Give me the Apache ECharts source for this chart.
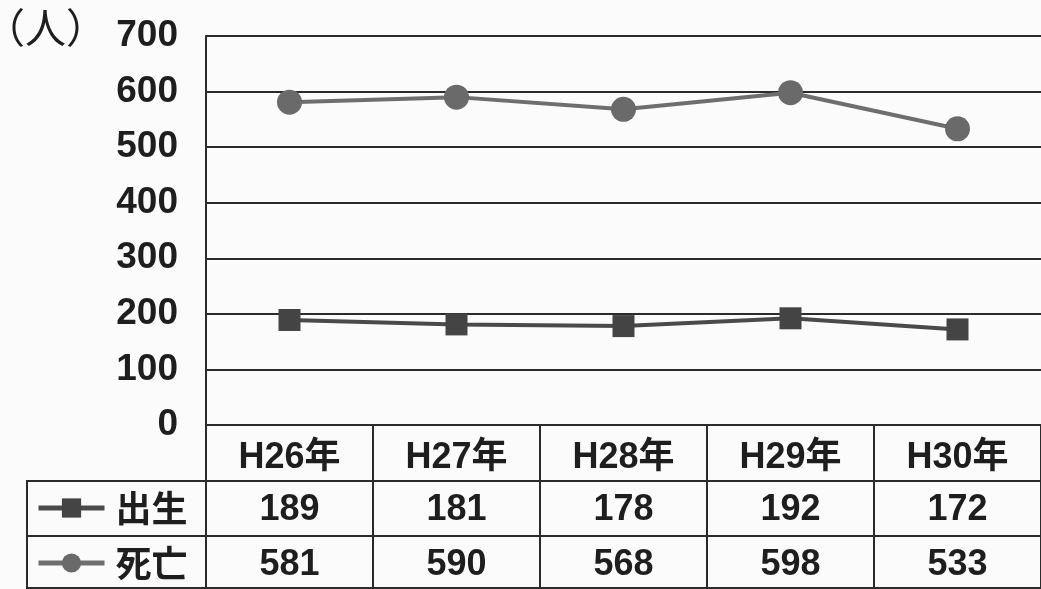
<!DOCTYPE html>
<html>
<head>
<meta charset="utf-8">
<script src="https://cdn.jsdelivr.net/npm/echarts@6/dist/echarts.min.js"></script>
<style>
    html, body { margin: 0; padding: 0; background: #fbfbfb; }
    #chart { width: 1041px; height: 589px; }
</style>
</head>
<body>
<div id="chart"></div>
<script>
// 出生・死亡数の推移
const years = ['H26年', 'H27年', 'H28年', 'H29年', 'H30年'];
const births = [189, 181, 178, 192, 172];
const deaths = [581, 590, 568, 598, 533];
const yTicks = [0, 100, 200, 300, 400, 500, 600, 700];

const NUM_FONT = '"Liberation Sans", Arial, sans-serif';
const JP_FONT = '"Noto Sans CJK JP", sans-serif';
const LINE = '#2b2b2b';

const chart = echarts.init(document.getElementById('chart'));

// 表の数値行（x軸を流用）
function valueRow(values, offset) {
    return {
        type: 'category',
        data: values.map(String),
        position: 'bottom',
        offset: offset,
        axisLine: { show: true, lineStyle: { color: LINE, width: 2 } },
        axisTick: { show: false },
        axisLabel: {
            interval: 0,
            margin: 11,
            color: '#1e1e1e',
            fontSize: 36,
            fontWeight: 'bold',
            fontFamily: NUM_FONT
        }
    };
}

function legendRow(name, top) {
    return {
        data: [name], left: 31, top: top, orient: 'vertical',
        itemWidth: 66, itemHeight: 24,
        lineStyle: { width: 5 },
        textStyle: {
            fontSize: 36, color: '#1e1e1e', fontFamily: JP_FONT, fontWeight: 'bold',
            padding: [0, 0, 0, 6]
        }
    };
}

const option = {
    backgroundColor: '#fbfbfb',
    animation: false,
    grid: { left: 206, top: 36, width: 845, height: 389 },
    legend: [legendRow('出生', 485), legendRow('死亡', 540)],
    xAxis: [
        {
            type: 'category',
            data: years,
            position: 'bottom',
            axisLine: { show: true, lineStyle: { color: LINE, width: 2 } },
            axisTick: { show: true, interval: 0, length: 170, lineStyle: { color: LINE, width: 2 } },
            axisLabel: {
                interval: 0,
                margin: 15,
                color: '#1e1e1e',
                fontSize: 36,
                fontWeight: 'bold',
                fontFamily: NUM_FONT + ', ' + JP_FONT
            }
        },
        valueRow(births, 56),
        valueRow(deaths, 111)
    ],
    yAxis: {
        type: 'value',
        min: yTicks[0],
        max: yTicks[yTicks.length - 1],
        interval: 100,
        axisLine: { show: true, lineStyle: { color: LINE, width: 2 } },
        axisTick: { show: false },
        splitLine: { lineStyle: { color: LINE, width: 2 } },
        axisLabel: {
            margin: 28,
            color: '#1e1e1e',
            fontSize: 37,
            fontWeight: 'bold',
            fontFamily: NUM_FONT
        }
    },
    series: [
        {
            name: '出生',
            type: 'line',
            data: births,
            symbol: 'rect',
            symbolSize: 22,
            lineStyle: { color: '#4a4a4a', width: 4 },
            itemStyle: { color: '#444444' }
        },
        {
            name: '死亡',
            type: 'line',
            data: deaths,
            symbol: 'circle',
            symbolSize: 25,
            lineStyle: { color: '#6e6e6e', width: 4 },
            itemStyle: { color: '#6a6a6a' }
        }
    ],
    graphic: [
        {
            type: 'text', left: -16, top: 7,
            style: { text: '（人）', fontSize: 41, fill: '#1e1e1e', fontFamily: JP_FONT }
        },
        // 凡例欄の枠線
        { type: 'line', shape: { x1: 27, y1: 481, x2: 206, y2: 481 }, style: { stroke: LINE, lineWidth: 2 } },
        { type: 'line', shape: { x1: 27, y1: 536, x2: 206, y2: 536 }, style: { stroke: LINE, lineWidth: 2 } },
        { type: 'line', shape: { x1: 27, y1: 480, x2: 27, y2: 589 }, style: { stroke: LINE, lineWidth: 2 } },
        { type: 'line', shape: { x1: 27, y1: 588, x2: 1041, y2: 588 }, style: { stroke: LINE, lineWidth: 2 } }
    ]
};

chart.setOption(option);
</script>
</body>
</html>
